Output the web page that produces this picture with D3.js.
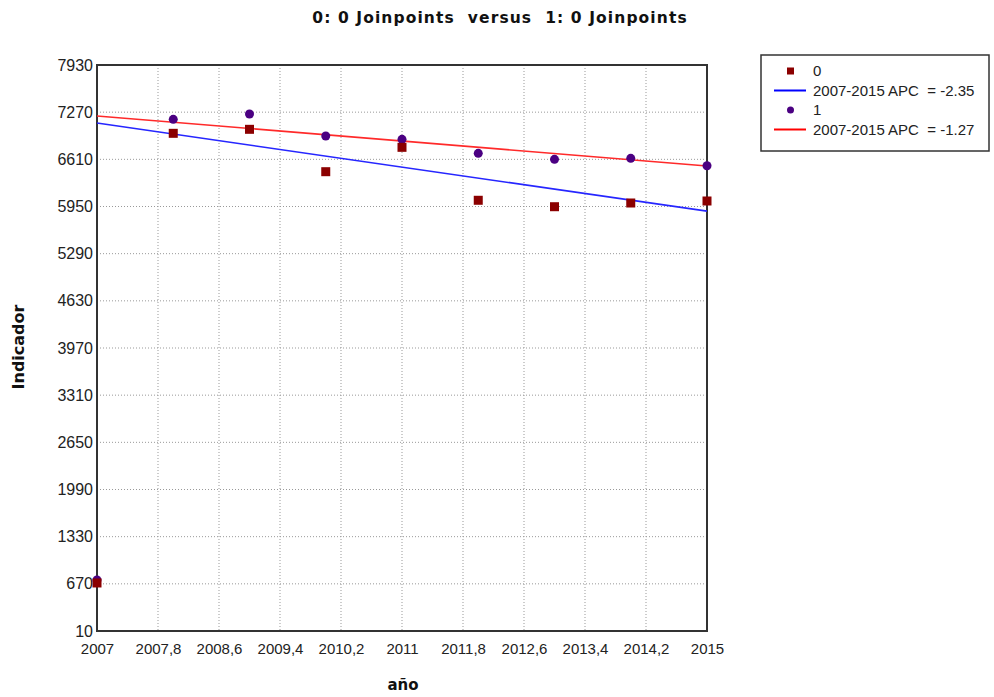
<!DOCTYPE html>
<html>
<head>
<meta charset="utf-8">
<script src="https://cdn.jsdelivr.net/npm/d3@7"></script>
<style>
  body { margin: 0; background: #fff; }
  svg { display: block; font-family: "Liberation Sans", Arial, sans-serif; }
  text { white-space: pre; }
</style>
</head>
<body>
<svg width="994" height="697"></svg>
<script>
var years = [2007, 2008, 2009, 2010, 2011, 2012, 2013, 2014, 2015];
var group0 = [682, 6974, 7030, 6437, 6778, 6037, 5947, 5999, 6027];
var group1 = [724, 7170, 7244, 6937, 6890, 6694, 6610, 6624, 6521];
// fitted segment endpoints (2007, 2015)
var fit0 = [7118, 5885];
var fit1 = [7216, 6516];
var fitYears = [2007, 2015];
var yTicks = [10, 670, 1330, 1990, 2650, 3310, 3970, 4630, 5290, 5950, 6610, 7270, 7930];
var xTicks = [2007, 2007.8, 2008.6, 2009.4, 2010.2, 2011, 2011.8, 2012.6, 2013.4, 2014.2, 2015];
var legendLabels = ["0", "2007-2015 APC  = -2.35", "1", "2007-2015 APC  = -1.27"];

var svg = d3.select("svg");

var x = d3.scaleLinear().domain([2007, 2015]).range([97, 707]);
var y = d3.scaleLinear().domain([10, 7930]).range([631, 65]);

// grid
var grid = svg.append("g").attr("class", "grid");
grid.selectAll("line.v")
    .data(xTicks.slice(1, -1))
    .enter().append("line")
    .attr("x1", function(d) { return x(d); })
    .attr("x2", function(d) { return x(d); })
    .attr("y1", y(7930))
    .attr("y2", y(10))
    .attr("stroke", "#999")
    .attr("stroke-dasharray", "1,2");
grid.selectAll("line.h")
    .data(yTicks.slice(1, -1))
    .enter().append("line")
    .attr("x1", x(2007))
    .attr("x2", x(2015))
    .attr("y1", function(d) { return y(d); })
    .attr("y2", function(d) { return y(d); })
    .attr("stroke", "#999")
    .attr("stroke-dasharray", "1,2");

// axes
var xAxis = d3.axisBottom(x).tickValues(xTicks).tickSize(0).tickPadding(12)
    .tickFormat(function(d) { return String(+d.toFixed(1)).replace(".", ","); });
var yAxis = d3.axisLeft(y).tickValues(yTicks).tickSize(0).tickPadding(4)
    .tickFormat(function(d) { return String(d); });

var gx = svg.append("g").attr("transform", "translate(0,631)").call(xAxis);
var gy = svg.append("g").attr("transform", "translate(97,0)").call(yAxis);
[gx, gy].forEach(function(g) {
    g.select(".domain").remove();
    g.selectAll("text")
        .attr("font-family", "'Liberation Sans', Arial, sans-serif")
        .attr("font-size", 15)
        .attr("fill", "#222");
});
gy.selectAll("text").attr("font-size", 16);

// frame
svg.append("rect")
    .attr("x", x(2007))
    .attr("y", y(7930))
    .attr("width", x(2015) - x(2007))
    .attr("height", y(10) - y(7930))
    .attr("fill", "none")
    .attr("stroke", "#333")
    .attr("stroke-width", 2);

// fitted lines
var line = d3.line()
    .x(function(d) { return x(d[0]); })
    .y(function(d) { return y(d[1]); });

svg.append("path")
    .datum(d3.zip(fitYears, fit0))
    .attr("d", line)
    .attr("fill", "none")
    .attr("stroke", "#2626ff")
    .attr("stroke-width", 1.6);
svg.append("path")
    .datum(d3.zip(fitYears, fit1))
    .attr("d", line)
    .attr("fill", "none")
    .attr("stroke", "#ff2a2a")
    .attr("stroke-width", 1.6);

// points
svg.selectAll("circle.g1")
    .data(d3.zip(years, group1))
    .enter().append("circle")
    .attr("cx", function(d) { return x(d[0]); })
    .attr("cy", function(d) { return y(d[1]); })
    .attr("r", 4.5)
    .attr("fill", "#4b0082");
svg.selectAll("rect.g0")
    .data(d3.zip(years, group0))
    .enter().append("rect")
    .attr("x", function(d) { return x(d[0]) - 4.5; })
    .attr("y", function(d) { return y(d[1]) - 4.5; })
    .attr("width", 9)
    .attr("height", 9)
    .attr("fill", "#8b0000");

// title and axis labels
svg.append("text")
    .attr("x", 500).attr("y", 23)
    .attr("text-anchor", "middle")
    .attr("font-family", "'DejaVu Sans', sans-serif")
    .attr("font-weight", "bold")
    .attr("font-size", 15.5)
    .attr("letter-spacing", 1.1)
    .attr("fill", "#111")
    .text("0: 0 Joinpoints  versus  1: 0 Joinpoints");

svg.append("text")
    .attr("x", 403).attr("y", 690)
    .attr("text-anchor", "middle")
    .attr("font-family", "'DejaVu Sans', sans-serif")
    .attr("font-weight", "bold")
    .attr("font-size", 15)
    .attr("fill", "#111")
    .text("año");

svg.append("text")
    .attr("transform", "translate(24,347) rotate(-90)")
    .attr("text-anchor", "middle")
    .attr("font-family", "'DejaVu Sans', sans-serif")
    .attr("font-weight", "bold")
    .attr("font-size", 16)
    .attr("fill", "#111")
    .text("Indicador");

// legend
var lg = svg.append("g").attr("transform", "translate(761,55)");
lg.append("rect")
    .attr("width", 228).attr("height", 96)
    .attr("fill", "#fff")
    .attr("stroke", "#333")
    .attr("stroke-width", 1.5);
var rows = lg.selectAll("g.row")
    .data(legendLabels)
    .enter().append("g")
    .attr("transform", function(d, i) { return "translate(0," + (16 + i * 19.5) + ")"; });
rows.append("text")
    .attr("x", 52).attr("dy", "0.35em")
    .attr("font-size", 15)
    .attr("fill", "#222")
    .text(function(d) { return d; });
rows.filter(function(d, i) { return i === 0; }).append("rect")
    .attr("x", 26).attr("y", -3.5).attr("width", 7).attr("height", 7)
    .attr("fill", "#8b0000");
rows.filter(function(d, i) { return i === 2; }).append("circle")
    .attr("cx", 29.5).attr("r", 3.5)
    .attr("fill", "#4b0082");
rows.filter(function(d, i) { return i === 1 || i === 3; }).append("line")
    .attr("x1", 13).attr("x2", 45)
    .attr("stroke", function(d, i) { return i === 0 ? "#0000ff" : "#ff0000"; })
    .attr("stroke-width", 2);
</script>
</body>
</html>
